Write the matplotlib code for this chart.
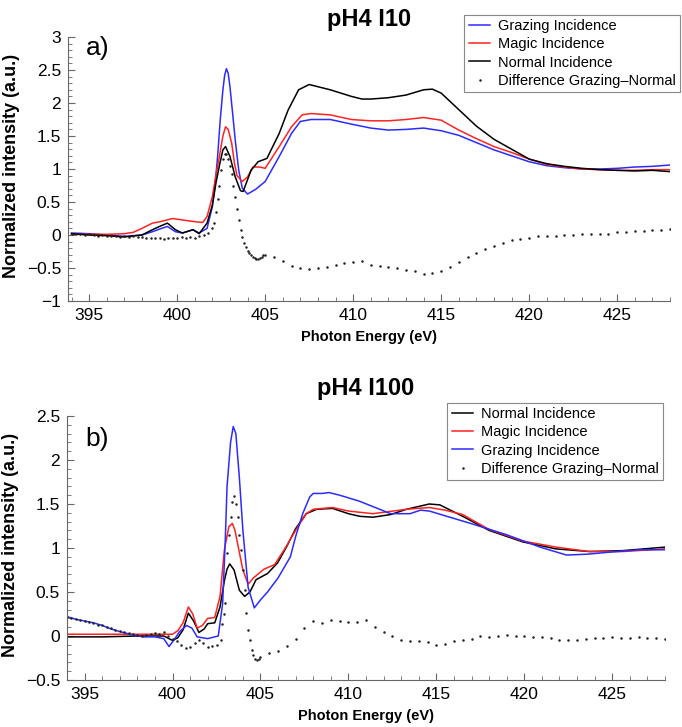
"""
NEXAFS N K-edge spectra, pH4 I10 and pH4 I100, three incidence angles
plus the grazing-normal difference.
"""

import numpy as np
import matplotlib
matplotlib.use("Agg")
import matplotlib.pyplot as plt
from matplotlib.ticker import MultipleLocator

# ---- panel a) pH4 I10 ----
gi_a_x = [394, 395, 396, 397, 398, 398.6, 399.0, 399.45, 399.9, 400.3, 400.9, 401.25,
          401.7, 402.0, 402.15, 402.3, 402.45, 402.6, 402.7, 402.8, 402.9, 403.0, 403.15,
          403.3, 403.5, 403.7, 404.0, 404.45, 405.0, 405.8, 406.5, 407.0, 407.6, 408.7,
          409.9, 411, 412, 413, 414, 415, 416, 417, 418, 419, 420, 421, 422, 423, 424,
          425, 426, 427, 428]
gi_a_y = [0.03, 0.02, 0.0, -0.02, 0.0, 0.05, 0.09, 0.13, 0.05, 0.03, 0.08, 0.03,
          0.1, 0.43, 0.75, 1.19, 1.75, 2.2, 2.42, 2.52, 2.45, 2.25, 1.85,
          1.44, 0.98, 0.71, 0.62, 0.69, 0.81, 1.19, 1.54, 1.72, 1.75, 1.75,
          1.68, 1.62, 1.59, 1.6, 1.62, 1.58, 1.51, 1.4, 1.29, 1.2, 1.11, 1.05, 1.02, 1.0, 1.0,
          1.01, 1.03, 1.04, 1.06]

mi_a_x = [394, 395, 396, 397, 397.5, 398.0, 398.6, 399.0, 399.75, 400.5, 401.07, 401.45,
          401.7, 402.0, 402.2, 402.4, 402.6, 402.75, 402.9, 403.1, 403.25, 403.4, 403.7,
          404.0, 404.3, 404.7, 405.0, 405.8, 406.5, 407.1, 407.6, 408.7, 409.9, 411, 412,
          413, 414, 415, 416, 417, 418, 419, 420, 421, 422, 423, 424, 425, 426, 427, 428]
mi_a_y = [0.01, 0.01, 0.01, 0.02, 0.04, 0.1, 0.18, 0.2, 0.25, 0.22, 0.2, 0.19,
          0.28, 0.58, 0.9, 1.19, 1.5, 1.64, 1.6, 1.39, 1.1, 0.9, 0.81,
          0.88, 1.03, 1.03, 1.01, 1.34, 1.64, 1.82, 1.84, 1.82, 1.75, 1.73, 1.73,
          1.75, 1.78, 1.74, 1.59, 1.46, 1.34, 1.25, 1.15, 1.07, 1.03, 1.0, 0.99, 0.98, 0.98,
          0.99, 0.99]

ni_a_x = [394, 395, 396, 397, 398, 398.6, 399.0, 399.45, 399.9, 400.3, 400.9, 401.25,
          401.7, 402.0, 402.2, 402.4, 402.6, 402.75, 403.0, 403.3, 403.6, 403.75, 404.2,
          404.6, 405.1, 405.8, 406.3, 406.9, 407.5, 408.7, 409.9, 410.5, 411, 412, 413,
          414, 414.5, 415, 416, 417, 418, 419, 420, 421, 422, 423, 424, 425, 426, 427, 428]
ni_a_y = [0.02, 0.0, -0.01, -0.03, 0.0, 0.08, 0.13, 0.18, 0.08, 0.03, 0.08, 0.02,
          0.18, 0.45, 0.78, 1.05, 1.29, 1.34, 1.19, 0.88, 0.67, 0.66, 0.98,
          1.11, 1.16, 1.54, 1.89, 2.2, 2.28, 2.2, 2.1, 2.06, 2.06, 2.08, 2.12,
          2.2, 2.21, 2.15, 1.9, 1.65, 1.45, 1.3, 1.15, 1.08, 1.04, 1.01, 0.99, 0.98, 0.97, 0.98, 0.96]

# difference grazing - normal: dense pre-edge, 0.1 eV on the edge, 0.5 eV after
diff_a_y = [0.02, 0.01, 0.02, 0.0, 0.01, 0.0, -0.01, 0.0, -0.01, -0.02, -0.01, -0.03,
            -0.02, -0.03, -0.02, -0.03, -0.03, -0.04, -0.04, -0.05, -0.05, -0.06, -0.05, -0.04,
            -0.05, -0.03, -0.04, -0.03, -0.04, -0.02, 0.0, 0.03,
            0.1, 0.18, 0.35, 0.55, 0.75, 0.98, 1.15, 1.22, 1.22, 1.15, 1.05, 0.93, 0.75, 0.58,
            0.4, 0.22, 0.08, -0.03, -0.12, -0.18, -0.24, -0.28, -0.31, -0.33, -0.35, -0.36,
            -0.37, -0.35, -0.33, -0.31,
            -0.3, -0.34, -0.4, -0.47, -0.5, -0.52, -0.5, -0.48, -0.45, -0.43,
            -0.41, -0.40, -0.45, -0.47, -0.48, -0.50, -0.53, -0.55, -0.59, -0.58,
            -0.54, -0.48, -0.41, -0.33, -0.27, -0.21, -0.17, -0.12, -0.08, -0.06,
            -0.04, -0.02, -0.02, -0.01, 0.0, 0.0, 0.01, 0.02, 0.02, 0.02,
            0.04, 0.04, 0.06, 0.06, 0.07, 0.07, 0.09]
diff_a_x = np.concatenate([np.linspace(394.0, 401.75, 32),
                           np.linspace(402.0, 404.9, 30),
                           np.linspace(405.0, 428.0, 47)])

# ---- panel b) pH4 I100 ----
ni_b_x = [394, 396, 398, 399.5, 400.0, 400.3, 400.6, 400.9, 401.2, 401.5, 401.8, 402.0,
          402.4, 402.7, 402.95, 403.1, 403.25, 403.5, 403.8, 404.1, 404.4, 404.75, 405.4,
          405.97, 406.5, 407.0, 407.6, 408.2, 409.1, 410.0, 410.65, 411.4, 412.4, 413.3,
          414.6, 415.2, 416.5, 418.0, 419.9, 421.8, 423.7, 425.6, 428.0]
ni_b_y = [-0.01, -0.01, 0.0, 0.0, -0.05, -0.02, 0.07, 0.26, 0.17, 0.04, 0.08, 0.14,
          0.15, 0.33, 0.63, 0.76, 0.82, 0.75, 0.52, 0.45, 0.5, 0.64, 0.71,
          0.83, 1.02, 1.22, 1.39, 1.44, 1.45, 1.39, 1.36, 1.35, 1.38, 1.44,
          1.5, 1.49, 1.36, 1.2, 1.07, 0.99, 0.96, 0.97, 1.01]

mi_b_x = [394, 396, 398, 399.5, 400.0, 400.3, 400.6, 400.9, 401.15, 401.4, 401.7, 402.0,
          402.4, 402.7, 402.95, 403.2, 403.4, 403.55, 403.7, 404.0, 404.3, 404.6, 405.2,
          405.8, 406.35, 407.0, 407.6, 408.0, 409.1, 410.0, 411.4, 413.3, 414.6, 415.5,
          416.5, 418.0, 419.9, 421.8, 423.7, 425.6, 428.0]
mi_b_y = [0.02, 0.02, 0.02, 0.02, 0.02, 0.06, 0.15, 0.33, 0.25, 0.09, 0.12, 0.2,
          0.21, 0.45, 0.98, 1.24, 1.28, 1.2, 1.05, 0.75, 0.59, 0.66, 0.76,
          0.81, 0.98, 1.2, 1.39, 1.44, 1.46, 1.42, 1.39, 1.44, 1.46, 1.43,
          1.38, 1.21, 1.08, 1.01, 0.96, 0.96, 0.99]

gi_b_x = [394, 394.5, 395, 395.5, 396, 396.5, 397, 397.4, 398, 398.4, 399, 399.5,
          399.8, 400.1, 400.4, 400.8, 401.1, 401.4, 402.0, 402.6, 402.85, 403.0, 403.1,
          403.3, 403.45, 403.6, 403.8, 404.0, 404.3, 404.65, 405.0, 405.4, 406.0, 406.7,
          407.0, 407.4, 407.8, 408.0, 408.5, 408.9, 409.5, 410.0, 410.65, 411.4, 412.4,
          413.5, 414.1, 414.6, 415.6, 417.1, 419.0, 420.9, 422.4, 423.6, 424.7, 426.6, 428.0]
gi_b_y = [0.22, 0.19, 0.17, 0.15, 0.12, 0.08, 0.05, 0.03, 0.0, -0.01, -0.01, -0.03,
          -0.12, -0.04, 0.05, 0.12, 0.09, -0.01, -0.03, 0.0, 0.37, 1.1, 1.7,
          2.2, 2.38, 2.3, 1.8, 1.2, 0.55, 0.32, 0.41, 0.5, 0.66, 0.9,
          1.13, 1.39, 1.58, 1.62, 1.62, 1.63, 1.6, 1.57, 1.53, 1.47, 1.39,
          1.39, 1.43, 1.42, 1.36, 1.27, 1.15, 1.01, 0.92, 0.93, 0.95, 0.98, 0.98]

diff_b_y = [0.22, 0.2, 0.19, 0.18, 0.17, 0.16, 0.15, 0.13, 0.12, 0.1, 0.09, 0.07,
            0.06, 0.04, 0.03, 0.02, 0.01, 0.0, 0.01, 0.02, 0.03, 0.02, 0.04, 0.0,
            -0.03, -0.06, -0.1, -0.14, -0.13, -0.08, -0.05, -0.08, -0.13, -0.11, -0.1, -0.05,
            0.14, 0.25, 0.37, 0.94, 1.15, 1.35, 1.52, 1.59, 1.5, 1.35, 1.15, 0.98,
            0.75, 0.52, 0.26, 0.07, -0.05, -0.16, -0.22, -0.26, -0.27, -0.26,
            -0.24, -0.19, -0.17, -0.11, -0.03, 0.09, 0.17, 0.15, 0.18, 0.17,
            0.16, 0.16, 0.18, 0.1, 0.05, 0.0, -0.04, -0.06, -0.06, -0.07,
            -0.1, -0.09, -0.06, -0.04, -0.03, 0.0, -0.01, 0.0, 0.01, 0.0,
            0.0, -0.01, -0.01, -0.02, -0.04, -0.05, -0.04, -0.03, -0.02, -0.02,
            -0.01, -0.02, -0.02, -0.01, -0.02, -0.02, -0.03]
diff_b_x = np.concatenate([np.linspace(394.0, 402.75, 36),
                           np.linspace(402.8, 404.9, 22),
                           np.linspace(405.0, 428.0, 47)])

BLUE = "#2b2bff"
RED = "#ff2222"
LABEL_FONT = "Liberation Sans"


def style_axes(ax, xlim, ylim, ystep):
    ax.set_xlim(*xlim)
    ax.set_ylim(*ylim)
    ax.spines["top"].set_visible(False)
    ax.spines["right"].set_visible(False)
    ax.spines["left"].set_color("#666666")
    ax.spines["bottom"].set_color("#666666")
    ax.xaxis.set_major_locator(MultipleLocator(5))
    ax.xaxis.set_minor_locator(MultipleLocator(1))
    ax.yaxis.set_major_locator(MultipleLocator(ystep))
    ax.yaxis.set_minor_locator(MultipleLocator(0.1))
    ax.tick_params(which="both", direction="in", color="#666666")
    ax.tick_params(which="major", length=5, labelsize=12.5, pad=5)
    ax.tick_params(which="minor", length=3)
    ax.set_xlabel("Photon Energy (eV)", fontsize=10.5, fontweight="bold", family=LABEL_FONT)
    ax.set_ylabel("Normalized intensity (a.u.)", fontsize=13, fontweight="bold", family=LABEL_FONT)
    ax.xaxis.set_label_coords(0.5, -0.11)
    ax.yaxis.set_label_coords(-0.08, 0.51)


def add_legend(fig, ax, anchor):
    leg = ax.legend(loc="upper right", bbox_to_anchor=anchor, bbox_transform=fig.transFigure,
                    borderaxespad=0, fancybox=False, framealpha=1, edgecolor="#888888",
                    prop={"family": LABEL_FONT, "size": 10.5}, handlelength=1.5,
                    handletextpad=0.5, labelspacing=0.28, borderpad=0.3, markerscale=1.0)
    leg.get_frame().set_linewidth(0.8)


fig = plt.figure(figsize=(6.82, 7.27), dpi=100)

# panel a
ax1 = fig.add_axes([68 / 682, 1 - 301 / 727, 602 / 682, 264 / 727])
ax1.plot(gi_a_x, gi_a_y, color=BLUE, lw=1.1, label="Grazing Incidence")
ax1.plot(mi_a_x, mi_a_y, color=RED, lw=1.1, label="Magic Incidence")
ax1.plot(ni_a_x, ni_a_y, color="black", lw=1.1, label="Normal Incidence")
ax1.plot(diff_a_x, diff_a_y, ls="none", marker="o", ms=1.8, mew=0, color="#222222",
         label="Difference Grazing\u2013Normal")
style_axes(ax1, (393.8, 428.0), (-1, 3), 0.5)
ax1.set_yticks([-1, -0.5, 0, 0.5, 1, 1.5, 2, 2.5, 3])
ax1.set_yticklabels(["\u22121", "\u22120.5", "0", "0.5", "1", "1.5", "2", "2.5", "3"])
ax1.set_title("pH4 I10", fontsize=17, fontweight="bold", family=LABEL_FONT, pad=8)
ax1.text(0.03, 1.005, "a)", transform=ax1.transAxes, fontsize=19, family=LABEL_FONT,
         va="top", ha="left")
add_legend(fig, ax1, (680 / 682, 1 - 15 / 727))

# panel b
ax2 = fig.add_axes([67 / 682, 1 - 680 / 727, 598 / 682, 264 / 727])
ax2.plot(ni_b_x, ni_b_y, color="black", lw=1.1, label="Normal Incidence")
ax2.plot(mi_b_x, mi_b_y, color=RED, lw=1.1, label="Magic Incidence")
ax2.plot(gi_b_x, gi_b_y, color=BLUE, lw=1.1, label="Grazing Incidence")
ax2.plot(diff_b_x, diff_b_y, ls="none", marker="o", ms=1.8, mew=0, color="#222222",
         label="Difference Grazing\u2013Normal")
style_axes(ax2, (394.0, 428.0), (-0.5, 2.5), 0.5)
ax2.set_yticks([-0.5, 0, 0.5, 1, 1.5, 2, 2.5])
ax2.set_yticklabels(["\u22120.5", "0", "0.5", "1", "1.5", "2", "2.5"])
ax2.set_title("pH4 I100", fontsize=17, fontweight="bold", family=LABEL_FONT, pad=15)
ax2.text(0.03, 0.958, "b)", transform=ax2.transAxes, fontsize=19, family=LABEL_FONT,
         va="top", ha="left")
add_legend(fig, ax2, (663 / 682, 1 - 403 / 727))

for ax in (ax1, ax2):
    for lab in ax.get_xticklabels() + ax.get_yticklabels():
        lab.set_family(LABEL_FONT)

fig.savefig("out.png", dpi=100)
